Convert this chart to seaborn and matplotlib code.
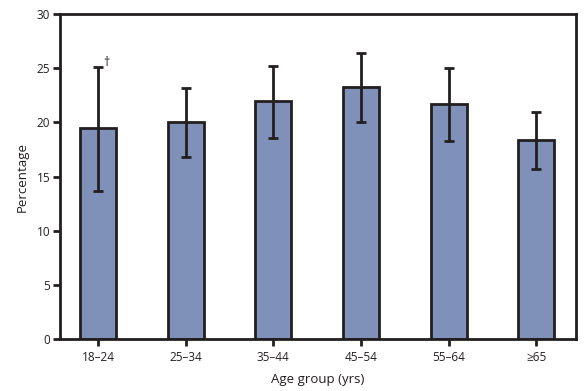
import numpy as np
import pandas as pd
import seaborn as sns
import matplotlib
matplotlib.use('Agg')
import matplotlib.pyplot as plt

# Data
age_groups = ['18–24', '25–34', '35–44', '45–54', '55–64', '≥65']
percentage = [19.5, 20.0, 22.0, 23.3, 21.7, 18.4]
ci_lower = [13.7, 16.8, 18.6, 20.0, 18.3, 15.7]
ci_upper = [25.1, 23.2, 25.2, 26.4, 25.0, 21.0]

df = pd.DataFrame({'age': age_groups, 'pct': percentage})

sns.set_style('white')
plt.rcParams['font.family'] = ['Open Sans', 'DejaVu Sans']

dark = '#231F20'
fig = plt.figure(figsize=(5.86, 3.91), dpi=100)
ax = fig.add_axes([0.1024, 0.133, 0.881, 0.831])

sns.barplot(data=df, x='age', y='pct', color='#7F90B9', saturation=1,
            width=0.41, edgecolor=dark, linewidth=2, errorbar=None, ax=ax)

# 95% confidence intervals
x = np.arange(len(age_groups))
err = [np.array(percentage) - np.array(ci_lower),
       np.array(ci_upper) - np.array(percentage)]
ax.errorbar(x, percentage, yerr=err, fmt='none', ecolor=dark,
            elinewidth=2, capsize=3.8, capthick=2)

ax.text(x[0] + 0.1, ci_upper[0] - 0.2, '†', color=dark, fontsize=9,
        ha='center', va='bottom')

ax.set_ylim(0, 30)
ax.set_xlim(-0.434, 5.457)
ax.set_yticks(range(0, 31, 5))
ax.set_xlabel('Age group (yrs)', fontsize=9.5, color=dark, labelpad=6)
ax.set_ylabel('Percentage', fontsize=9.5, color=dark, labelpad=6)
ax.tick_params(axis='both', labelsize=8.5, colors=dark, direction='out',
               length=5, width=2, pad=2, left=True, bottom=True)
ax.tick_params(axis='x', pad=4)
for s in ax.spines.values():
    s.set_color(dark)
    s.set_linewidth(2)

fig.savefig('out.png', dpi=100)
